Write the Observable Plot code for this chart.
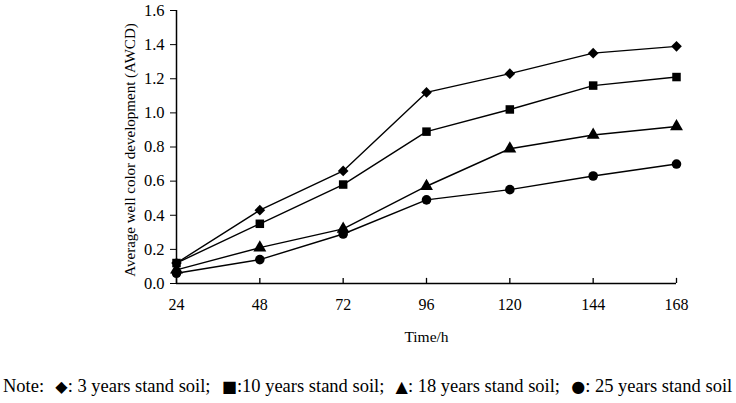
<!DOCTYPE html>
<html>
<head>
<meta charset="utf-8">
<script src="https://cdn.jsdelivr.net/npm/d3@7"></script>
<script src="https://cdn.jsdelivr.net/npm/@observablehq/plot@0.6"></script>
<style>
  html, body { margin: 0; padding: 0; background: #fff; }
  #chart svg { display: block; }
  #note { font-family: "Liberation Serif", "Times New Roman", serif; font-size: 18.5px; line-height: 22px; height: 24px; padding-top: 5px; white-space: pre; padding-left: 3px; color: #000; }
  .sym { font-family: "DejaVu Sans", sans-serif; font-size: 16px; margin-left: 2px; }
</style>
</head>
<body>
<div id="chart"></div>
<div id="note"></div>
<script>
const hours = [24, 48, 72, 96, 120, 144, 168];
const seriesNames = ["3 years stand soil", "10 years stand soil", "18 years stand soil", "25 years stand soil"];
const seriesSymbols = ["diamond2", "square", "triangle", "circle"];
const noteGlyphs = ["◆", "■", "▲", "●"];
const years3 = [0.12, 0.43, 0.66, 1.12, 1.23, 1.35, 1.39];
const years10 = [0.12, 0.35, 0.58, 0.89, 1.02, 1.16, 1.21];
const years18 = [0.08, 0.21, 0.32, 0.57, 0.79, 0.87, 0.92];
const years25 = [0.06, 0.14, 0.29, 0.49, 0.55, 0.63, 0.70];
const yTicks = [0, 0.2, 0.4, 0.6, 0.8, 1.0, 1.2, 1.4, 1.6];
const xLabel = "Time/h";
const yLabel = "Average well color development (AWCD)";

const allValues = [years3, years10, years18, years25];
const data = [];
allValues.forEach((vals, i) => vals.forEach((v, j) => data.push({series: seriesNames[i], hour: hours[j], value: v})));

const font = "Liberation Serif, Times New Roman, serif";
const chart = Plot.plot({
  width: 736,
  height: 370,
  marginLeft: 176,
  marginRight: 60,
  marginTop: 10,
  marginBottom: 87,
  style: {fontFamily: font, fontSize: "15px", color: "#000", background: "#fff"},
  x: {domain: [24, 168]},
  y: {domain: [0, 1.6]},
  symbol: {domain: seriesNames, range: seriesSymbols},
  marks: [
    Plot.axisY({ticks: yTicks, tickSize: 6, tickPadding: 6, tickFormat: d3.format(".1f"), label: null, stroke: "#000", fontSize: 16.5}),
    Plot.axisX({ticks: hours, tickSize: 0, tickPadding: 15, tickFormat: d => String(d), label: null, fontSize: 16}),
    Plot.ruleX(hours, {x: d => d, y1: 0, y2: 0.03, stroke: "#000", strokeWidth: 1.3}),
    Plot.ruleX([24], {y1: 0, y2: 1.6, stroke: "#000", strokeWidth: 1.5}),
    Plot.ruleY([0], {x1: 24, x2: 168, stroke: "#000", strokeWidth: 1.5}),
    Plot.text([xLabel], {frameAnchor: "bottom", dy: 47, lineAnchor: "top", fontSize: 15.5}),
    Plot.text([yLabel], {frameAnchor: "left", textAnchor: "middle", rotate: -90, dx: -46, dy: 3, fontSize: 15}),
    Plot.line(data, {x: "hour", y: "value", z: "series", stroke: "#000", strokeWidth: 1.4}),
    Plot.dot(data, {x: "hour", y: "value", symbol: "series", fill: "#000", stroke: null, r: 4.8})
  ]
});
document.getElementById("chart").appendChild(chart);

const note = document.getElementById("note");
note.appendChild(document.createTextNode("Note:  "));
seriesNames.forEach((name, i) => {
  const s = document.createElement("span");
  s.className = "sym";
  s.textContent = noteGlyphs[i];
  note.appendChild(s);
  note.appendChild(document.createTextNode((i === 1 ? ":" : ": ") + name + (i < seriesNames.length - 1 ? ";  " : "")));
});
</script>
</body>
</html>
